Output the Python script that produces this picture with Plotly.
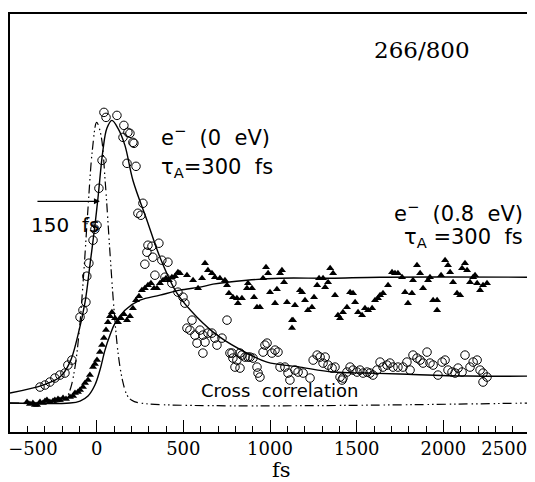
import plotly.graph_objects as go

# ---------------- data (time in fs, signal in arbitrary units) ----------------
# e- (0 eV) data, open circles
t_e0 = [-327, -298, -270, -241, -212, -183, -166, -143, -96, -79,
        -62, -57, -45, -21, -10, 2, 13, 31, 42, 54,
        117, 152, 157, 175, 180, 192, 209, 215, 227, 238,
        255, 267, 278, 290, 296, 319, 324, 336, 359, 376,
        394, 411, 434, 469, 498, 509, 521, 538, 550, 567,
        579, 596, 613, 613, 625, 642, 665, 682, 694, 723,
        752, 769, 781, 786, 798, 809, 827, 827, 838, 856,
        873, 885, 902, 925, 931, 942, 960, 971, 983, 1011,
        1029, 1046, 1058, 1086, 1104, 1115, 1144, 1162, 1191, 1231,
        1249, 1272, 1289, 1306, 1318, 1335, 1358, 1375, 1404, 1416,
        1421, 1444, 1462, 1479, 1502, 1519, 1537, 1560, 1577, 1594,
        1617, 1635, 1652, 1675, 1692, 1710, 1738, 1767, 1790, 1808,
        1825, 1848, 1866, 1883, 1906, 1923, 1941, 1969, 1993, 2010,
        2027, 2050, 2068, 2085, 2108, 2125, 2154, 2172, 2195, 2212,
        2229, 2252, 2229]
s_e0 = [16, 18, 21, 25, 28, 30, 38, 43, 86, 93,
        101, 127, 140, 163, 174, 178, 215, 243, 291, 286,
        288, 266, 278, 240, 271, 270, 261, 260, 237, 190,
        188, 200, 139, 151, 158, 157, 146, 128, 160, 143,
        126, 141, 120, 111, 106, 100, 75, 73, 83, 68,
        60, 73, 50, 68, 61, 70, 70, 65, 58, 65,
        83, 50, 50, 45, 36, 43, 50, 35, 48, 46,
        46, 46, 45, 36, 30, 26, 51, 58, 60, 50,
        53, 51, 36, 36, 30, 23, 33, 31, 30, 25,
        43, 48, 46, 40, 46, 38, 35, 36, 26, 23,
        25, 31, 36, 33, 31, 33, 30, 31, 30, 28,
        33, 41, 36, 38, 40, 36, 36, 36, 41, 33,
        48, 45, 43, 40, 51, 40, 38, 28, 41, 43,
        33, 31, 30, 35, 31, 48, 36, 41, 43, 33,
        30, 26, 21]

# e- (0.8 eV) data, filled triangles
t_e08 = [-402, -385, -368, -356, -344, -327, -310, -298, -287, -270,
         -252, -241, -223, -212, -194, -177, -154, -136, -125, -108,
         -96, -79, -67, -50, -39, -21, -10, 2,
         19, 31, 42, 54, 65, 77, 88, 106, 123, 140,
         157, 175, 192, 209, 227, 244, 261, 278, 296, 313,
         331, 348, 365, 383, 400, 417, 434, 452, 469,
         480, 521, 556, 585, 608, 625, 642, 665, 682, 711,
         740, 752, 763, 786, 809, 815, 838, 867, 873, 896,
         908, 925, 942, 960, 977, 989, 1000, 1029, 1040, 1058,
         1069, 1081, 1098, 1127, 1133, 1127, 1144, 1173, 1185, 1202,
         1219, 1242, 1254, 1272, 1283, 1306, 1318, 1335, 1347, 1364,
         1375, 1392, 1404, 1421, 1444, 1462, 1479, 1491, 1508, 1531,
         1548, 1566, 1589, 1606, 1623,
         1635, 1652, 1681, 1704, 1721, 1738, 1762, 1779, 1796, 1819,
         1825, 1848, 1866, 1883, 1912, 1923, 1941, 1964, 1964, 1987,
         2010, 2027, 2039, 2056, 2079, 2097, 2108, 2125, 2137, 2154,
         2172, 2183, 2195, 2212, 2229, 2252]
s_e08 = [1, -1, 0, -2, -2, 1, 0, 2, 3, 1,
         2, 3, 4, 3, 5, 4, 6, 7, 10, 11,
         13, 16, 20, 23, 28, 36, 39, 43,
         51, 58, 65, 73, 81, 87, 91, 85, 81, 85,
         89, 83, 87, 95, 103, 107, 113, 115, 118, 120,
         115, 115, 120, 123, 125, 123, 126, 127, 131,
         130, 128, 123, 115, 125, 140, 133, 130, 126, 125,
         123, 118, 110, 106, 105, 100, 105, 115, 120, 115,
         106, 96, 96, 125, 136, 130, 111, 100, 114, 130,
         133, 121, 101, 83, 83, 75, 98, 113, 111, 103,
         93, 96, 106, 118, 125, 125, 116, 121, 135, 130,
         108, 88, 85, 91, 96, 111, 110, 101, 91, 88,
         95, 93, 95, 103, 105,
         108, 110, 118, 131, 130, 130, 126, 111, 100, 110,
         123, 138, 130, 115, 123, 126, 103, 103, 93, 128,
         143, 138, 131, 121, 110, 108, 135, 140, 133, 121,
         126, 128, 120, 113, 118, 120]

# fitted curve, e- (0 eV), tau_A = 300 fs
fit0_t = [-500, -310, -212, -154, -108, -67, -39, -10, 8, 36, 59, 88, 123, 163,
          209, 290, 365, 463, 579, 711, 867, 983, 1173, 1364, 1560, 1750, 2137, 2500]
fit0_s = [10, 18, 26, 41, 68, 101, 138, 178, 206, 253, 275, 283, 275, 258,
          223, 183, 146, 110, 86, 66, 50, 41, 36, 31, 30, 29, 27, 27]

# fitted curve, e- (0.8 eV), tau_A = 300 fs
fit08_t = [-500, -154, -96, -50, -10, 19, 48, 77, 106, 163, 250, 365, 480, 596,
           671, 867, 1058, 1347, 1635, 2500]
fit08_s = [0, 0, 2, 7, 18, 33, 53, 68, 80, 93, 103, 108, 113, 116,
           119, 123, 125, 125, 126, 126]

# cross correlation (dash-dot)
cc_t = [-500, -300, -200, -175, -150, -125, -100, -75, -50, -25, 0, 25, 50, 75,
        100, 125, 150, 175, 200, 250, 2500]
cc_s = [0, 0, 2, 5, 15, 36, 73, 129, 195, 253, 281, 268, 220, 155,
        94, 48, 22, 8, 3, 0, 0]

tick_vals = [-500, 0, 500, 1000, 1500, 2000, 2500]
tick_text = ["\u2212500", "0", "500", "1000", "1500", "2000", "2500"]

# ---------------- figure ----------------
NB = "\u00a0"
ticktext_padded = list(tick_text)
ticktext_padded[0] = NB * 8 + ticktext_padded[0]
ticktext_padded[-1] = ticktext_padded[-1] + NB * 9

fig = go.Figure()

fig.add_trace(go.Scatter(x=cc_t, y=cc_s, mode="lines", line_shape="spline",
                         line=dict(color="black", width=1.2, dash="9px,4px,1.5px,3px,1.5px,3px"),
                         hoverinfo="skip"))
fig.add_trace(go.Scatter(x=fit0_t, y=fit0_s, mode="lines", line_shape="spline",
                         line=dict(color="black", width=1.4), hoverinfo="skip"))
fig.add_trace(go.Scatter(x=fit08_t, y=fit08_s, mode="lines", line_shape="spline",
                         line=dict(color="black", width=1.4), hoverinfo="skip"))
fig.add_trace(go.Scatter(x=t_e0, y=s_e0, mode="markers",
                         marker=dict(symbol="circle-open", size=8.5, color="black",
                                     line=dict(width=1, color="black"))))
fig.add_trace(go.Scatter(x=t_e08, y=s_e08, mode="markers",
                         marker=dict(symbol="triangle-up", size=7, color="black",
                                     line=dict(width=0))))

sans = "DejaVu Sans"
serif = "DejaVu Serif"

# the page places the figure 8 px from the top-left corner of the window;
# the plot frame spans window pixels x 10..530, y 13.5..432
def px2paper(px, py):
    return (px - 10) / 520.0, (432 - py) / 418.5

annots = []
def add_text(text, px, py, xanchor, size, family=sans):
    x, y = px2paper(px, py)
    annots.append(dict(text=text, x=x, y=y, xref="paper", yref="paper",
                       xanchor=xanchor, yanchor="middle", showarrow=False,
                       font=dict(family=family, size=size, color="black")))

add_text("266/800", 422, 50, "center", 23, serif)
add_text("e<sup>\u2212</sup>  (0  eV)", 159, 136, "left", 21)
add_text("\u03c4<sub>A</sub>=300  fs", 159, 168, "left", 21)
add_text("e<sup>\u2212</sup>  (0.8  eV)", 525, 212, "right", 21)
add_text("\u03c4<sub>A</sub> =300  fs", 525, 238, "right", 21)
add_text("150  fs", 29, 225, "left", 20)
add_text("Cross  correlation", 199, 390, "left", 18)
add_text("fs", 281, 470, "center", 21, serif)

# arrow
annots.append(dict(x=19, y=202, xref="x", yref="y", ax=-64, ay=0, text="",
                   showarrow=True, arrowhead=2, arrowsize=1, arrowwidth=1.2,
                   arrowcolor="black"))

fig.update_layout(
    width=527, height=474,
    margin=dict(l=2, r=5, t=5.5, b=50, autoexpand=False),
    paper_bgcolor="white", plot_bgcolor="white",
    showlegend=False,
    annotations=annots,
    xaxis=dict(range=[-500, 2500], tickmode="array", tickvals=tick_vals,
               ticktext=ticktext_padded, ticks="inside", ticklen=12, tickwidth=1.2,
               tickcolor="black", showgrid=False, zeroline=False,
               showline=True, linecolor="black", linewidth=1.6, mirror=True,
               tickfont=dict(family=serif, size=18, color="black"),
               ticklabelstandoff=0, ticklabeloverflow="allow", automargin=False,
               minor=dict(tickmode="linear", tick0=0, dtick=100, ticks="inside",
                          ticklen=6, tickwidth=1.1, tickcolor="black", showgrid=False)),
    yaxis=dict(range=[-29, 389.5], showticklabels=False, ticks="", showgrid=False,
               zeroline=False, showline=True, linecolor="black", linewidth=1.6,
               mirror=True, automargin=False),
)

fig.write_html("out.html", config={"displayModeBar": False})
